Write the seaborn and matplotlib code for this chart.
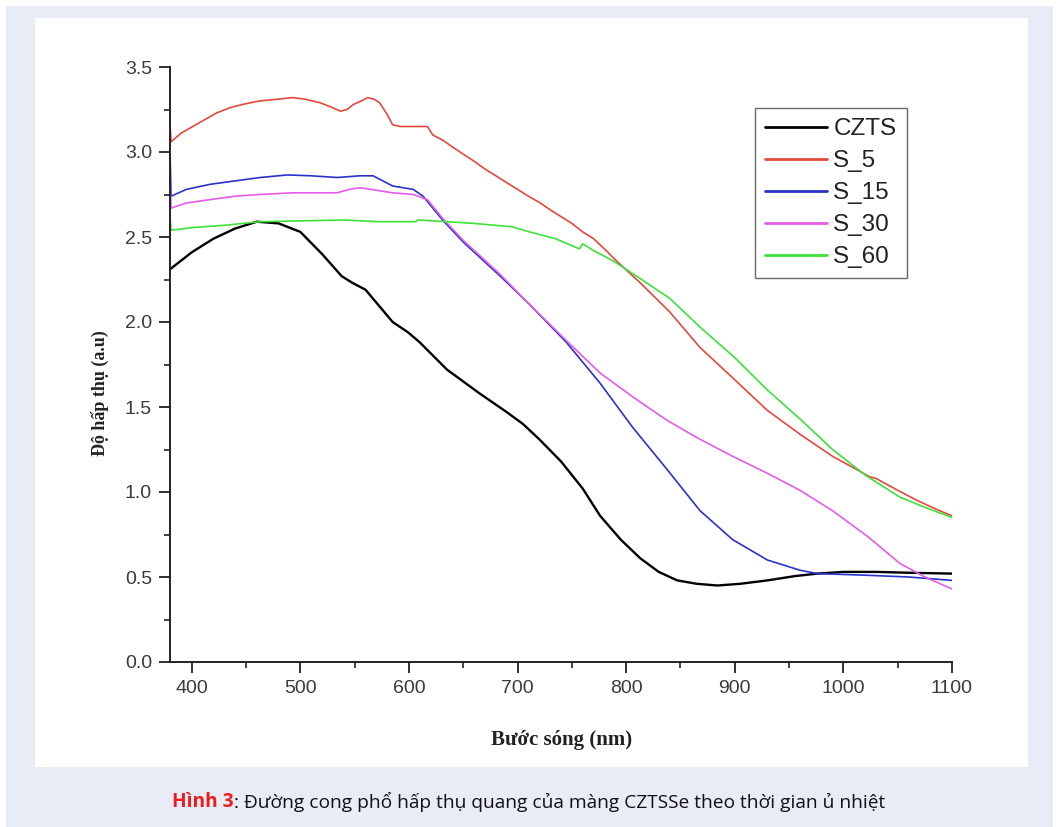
import matplotlib
matplotlib.use("Agg")
import matplotlib.pyplot as plt
import matplotlib.ticker as mticker
from matplotlib.patches import Rectangle
import seaborn as sns
import pandas as pd

# ─── DATA ────────────────────────────────────────────────────────────────────
czts_wl = [380, 390, 400, 420, 440, 460, 480, 500, 520, 538, 548, 560, 585, 599, 610,
           635, 665, 690, 705, 720, 740, 760, 776, 795, 813, 830, 847, 865, 884, 905,
           930, 955, 976, 1000, 1030, 1060, 1100]
czts_ab = [2.31, 2.36, 2.41, 2.49, 2.55, 2.59, 2.58, 2.53, 2.40, 2.27, 2.23, 2.19, 2.00,
           1.94, 1.88, 1.72, 1.58, 1.47, 1.40, 1.31, 1.18, 1.02, 0.86, 0.72, 0.61, 0.53,
           0.48, 0.46, 0.45, 0.46, 0.48, 0.505, 0.52, 0.53, 0.53, 0.525, 0.52]

s5_wl = [380, 381, 390, 401, 412, 423, 435, 447, 462, 478, 493, 505, 518, 530, 537, 543,
         549, 556, 562, 568, 573, 580, 585, 592, 600, 617, 622, 631, 640, 647, 659, 670,
         680, 690, 700, 710, 721, 730, 740, 750, 760, 770, 780, 791, 813, 840, 868, 900,
         930, 960, 990, 1010, 1024, 1030, 1050, 1068, 1085, 1100]
s5_ab = [3.16, 3.06, 3.11, 3.15, 3.19, 3.23, 3.26, 3.28, 3.30, 3.31, 3.32, 3.31, 3.29,
         3.26, 3.24, 3.25, 3.28, 3.30, 3.32, 3.31, 3.29, 3.22, 3.16, 3.15, 3.15, 3.15,
         3.10, 3.07, 3.03, 3.00, 2.95, 2.90, 2.86, 2.82, 2.78, 2.74, 2.70, 2.66, 2.62,
         2.58, 2.53, 2.49, 2.43, 2.36, 2.23, 2.06, 1.85, 1.66, 1.48, 1.34, 1.21, 1.14,
         1.09, 1.08, 1.01, 0.95, 0.90, 0.86]

s15_wl = [380, 381, 395, 417, 440, 463, 488, 510, 534, 555, 567, 585, 604, 613, 631, 650,
          684, 710, 745, 776, 806, 838, 868, 898, 930, 960, 976, 1000, 1022, 1060, 1100]
s15_ab = [3.00, 2.74, 2.78, 2.81, 2.83, 2.85, 2.865, 2.86, 2.85, 2.86, 2.86, 2.80, 2.78,
          2.74, 2.60, 2.47, 2.27, 2.11, 1.88, 1.64, 1.38, 1.13, 0.89, 0.72, 0.60, 0.54,
          0.52, 0.515, 0.51, 0.50, 0.48]

s30_wl = [380, 381, 395, 417, 440, 463, 493, 534, 545, 555, 565, 585, 604, 617, 631, 650,
          684, 710, 745, 776, 806, 838, 868, 898, 930, 960, 990, 1022, 1052, 1075, 1100]
s30_ab = [2.85, 2.67, 2.70, 2.72, 2.74, 2.75, 2.76, 2.76, 2.78, 2.79, 2.78, 2.76, 2.75,
          2.72, 2.61, 2.48, 2.28, 2.11, 1.89, 1.70, 1.56, 1.42, 1.31, 1.21, 1.11, 1.01,
          0.89, 0.74, 0.58, 0.50, 0.43]

s60_wl = [380, 381, 400, 432, 463, 500, 540, 573, 606, 608, 635, 660, 677, 695, 711, 735,
          757, 760, 770, 788, 800, 840, 868, 900, 930, 960, 990, 1020, 1052, 1075, 1100]
s60_ab = [2.62, 2.54, 2.555, 2.57, 2.59, 2.595, 2.60, 2.59, 2.59, 2.60, 2.59, 2.58, 2.57,
          2.56, 2.53, 2.49, 2.43, 2.46, 2.42, 2.36, 2.31, 2.14, 1.97, 1.79, 1.60, 1.43,
          1.25, 1.10, 0.97, 0.91, 0.85]

series = [("CZTS", czts_wl, czts_ab, "#000000", 1.7),
          ("S_5", s5_wl, s5_ab, "#e5483c", 1.2),
          ("S_15", s15_wl, s15_ab, "#2a32cc", 1.2),
          ("S_30", s30_wl, s30_ab, "#e55ce8", 1.2),
          ("S_60", s60_wl, s60_ab, "#3ee23a", 1.2)]

x_ticks = [400, 500, 600, 700, 800, 900, 1000, 1100]
y_ticks = [0.0, 0.5, 1.0, 1.5, 2.0, 2.5, 3.0, 3.5]

# ─── FIGURE ──────────────────────────────────────────────────────────────────
sns.set_style("ticks")
plt.rcParams["font.family"] = ["Liberation Sans", "DejaVu Sans"]

W, H = 1058, 827
fig = plt.figure(figsize=(W / 100, H / 100), dpi=100)
fig.patch.set_facecolor("white")

def px_rect(x0, y0, x1, y1, color):
    fig.patches.append(Rectangle((x0 / W, 1 - y1 / H), (x1 - x0) / W, (y1 - y0) / H,
                                 transform=fig.transFigure, facecolor=color,
                                 edgecolor="none", zorder=-10))

px_rect(6, 6, 1053, 827, "#e8ecf6")
px_rect(35, 18, 1028, 767, "#ffffff")

ax = fig.add_axes([170 / W, 1 - 662 / H, (952 - 170) / W, (662 - 67) / H])
ax.set_facecolor("none")

for name, wl, ab, col, lw in series:
    df = pd.DataFrame({"wl": wl, "ab": ab})
    sns.lineplot(data=df, x="wl", y="ab", ax=ax, color=col, lw=lw, label=name,
                 sort=False, estimator=None)

ax.set_xlim(380, 1100)
ax.set_ylim(0, 3.5)
ax.set_xticks(x_ticks)
ax.set_yticks(y_ticks)
ax.yaxis.set_major_formatter(mticker.FormatStrFormatter("%.1f"))
ax.xaxis.set_minor_locator(mticker.MultipleLocator(50))
ax.yaxis.set_minor_locator(mticker.MultipleLocator(0.25))

for s in ["top", "right"]:
    ax.spines[s].set_visible(False)
for s in ["left", "bottom"]:
    ax.spines[s].set_linewidth(1.4)
    ax.spines[s].set_color("#222222")

ax.tick_params(which="major", direction="out", length=8, width=1.3, color="#222222",
               labelsize=14, labelcolor="#3a3a3a", pad=5)
ax.tick_params(which="minor", direction="out", length=4.5, width=1.2, color="#222222")

ax.set_xlabel("Bước sóng (nm)", fontfamily="Liberation Serif", fontweight="bold",
              fontsize=15, color="#222222")
ax.set_ylabel("Độ hấp thụ (a.u)", fontfamily="Liberation Serif", fontweight="bold",
              fontsize=13, color="#222222")
ax.xaxis.set_label_coords((562 - 170) / 782, (662 - 740) / 595)
ax.yaxis.set_label_coords((100 - 170) / 782, (662 - 393) / 595)
ax.xaxis.label.set_va("center")
ax.yaxis.label.set_va("center")

leg = ax.legend(loc="upper left", bbox_to_anchor=(755 / W, 1 - 108 / H),
                bbox_transform=fig.transFigure, borderaxespad=0, frameon=True,
                fancybox=False, shadow=False, handlelength=2.55, handletextpad=0.25,
                labelspacing=0.41, borderpad=0.42,
                prop={"family": "Liberation Sans", "size": 17.5})
leg.get_frame().set_edgecolor("#444444")
leg.get_frame().set_linewidth(1.0)
for t in leg.get_texts():
    t.set_color("#222222")
for h in leg.get_lines():
    h.set_linewidth(2.0)

# ─── CAPTION ─────────────────────────────────────────────────────────────────
cap_y = 1 - 802 / H
t1 = fig.text(172 / W, cap_y, "Hình 3", color="#ee1c1c", fontweight="bold",
              fontfamily="Open Sans", fontsize=13.8, va="center", ha="left")
fig.canvas.draw()
bb = t1.get_window_extent()
fig.text(bb.x1 / W, cap_y, ": Đường cong phổ hấp thụ quang của màng CZTSSe theo thời gian ủ nhiệt",
         color="#111111", fontfamily="Open Sans", fontsize=13.8, va="center", ha="left")

fig.savefig("out.png", dpi=100)
